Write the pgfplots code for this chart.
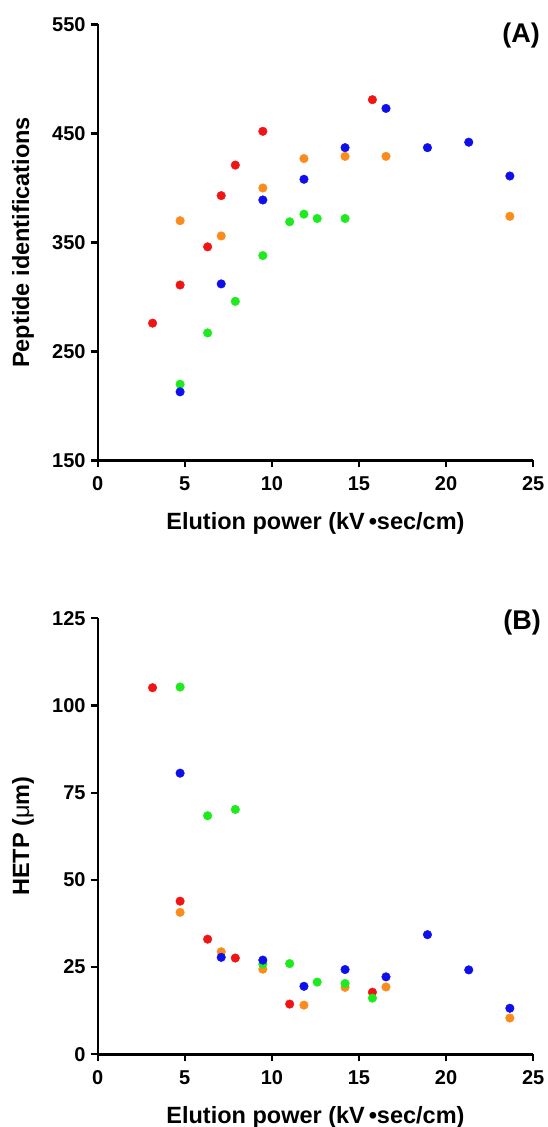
\documentclass[border=0pt]{standalone}
\usepackage{fontspec}
\setmainfont{Liberation Sans}
\usepackage{pgfplots}
\pgfplotsset{compat=1.18}
\definecolor{cred}{RGB}{240,20,20}
\definecolor{corange}{RGB}{250,140,30}
\definecolor{cgreen}{RGB}{30,235,30}
\definecolor{cblue}{RGB}{15,15,235}
\pgfplotsset{pts/.style={only marks, mark=*, mark size=4.3pt, mark options={draw=#1, fill=#1}}}
\pgfplotsset{prism/.style={
  width=435.5pt, height=436pt, scale only axis,
  axis x line=bottom, axis y line=left,
  axis line style={-, line width=2.4pt},
  tick align=outside, major tick length=7pt,
  every tick/.style={black, line width=2.2pt},
  xmin=0, xmax=25, xtick={0,5,...,25},
  enlargelimits=false, clip=false,
  /pgf/number format/assume math mode=true,
  ticklabel style={font=\fontsize{20}{20}\selectfont\bfseries},
  xticklabel style={inner sep=0pt, yshift=-9pt},
  yticklabel style={inner sep=0pt, xshift=-5pt},
}}
\newcommand{\lab}{\fontsize{23.5}{23.5}\selectfont\bfseries}
\begin{document}
\begin{tikzpicture}
\path[use as bounding box] (0pt,0pt) rectangle (547pt,1127pt);
% Panel A
\begin{axis}[prism, at={(97.7pt,666.5pt)}, anchor=south west,
  ymin=150, ymax=550, ytick={150,250,...,550}]
\addplot[pts=cred] coordinates {(3.15,276) (4.73,311) (6.31,346) (7.09,393) (7.9,421) (9.48,452) (15.77,481)};
\addplot[pts=corange] coordinates {(4.73,370) (7.09,356) (9.48,400) (11.84,427) (14.2,429) (16.55,429) (23.66,374)};
\addplot[pts=cgreen] coordinates {(4.73,220) (6.31,267) (7.9,296) (9.48,338) (11.02,369) (11.84,376) (12.6,372) (14.2,372)};
\addplot[pts=cblue] coordinates {(4.73,213) (7.09,312) (9.48,389) (11.84,408) (14.2,437) (16.55,473) (18.93,437) (21.3,442) (23.66,411)};
\node[anchor=base, font=\lab] at ([yshift=-68.8pt]rel axis cs:0.5,0) {Elution power (kV\,•sec/cm)};
\node[anchor=base, rotate=90, font=\lab] at ([xshift=-68.7pt]rel axis cs:0,0.5) {Peptide identifications};
\end{axis}
% Panel B
\begin{axis}[prism, at={(97.7pt,72.7pt)}, anchor=south west,
  ymin=0, ymax=125, ytick={0,25,...,125}]
\addplot[pts=cred] coordinates {(3.15,105.1) (4.73,43.9) (6.31,33.0) (7.9,27.6) (11.02,14.4) (15.77,17.8)};
\addplot[pts=corange] coordinates {(4.73,40.7) (7.09,29.4) (9.48,24.4) (11.84,14.1) (14.2,19.2) (16.55,19.3) (23.66,10.4)};
\addplot[pts=cgreen] coordinates {(4.73,105.3) (6.31,68.4) (7.9,70.2) (9.48,25.9) (11.02,26.0) (12.6,20.7) (14.2,20.3) (15.77,16.1)};
\addplot[pts=cblue] coordinates {(4.73,80.6) (7.09,27.8) (9.48,27.0) (11.84,19.5) (14.2,24.3) (16.55,22.2) (18.93,34.3) (21.3,24.2) (23.66,13.2)};
\node[anchor=base, font=\lab] at ([yshift=-68.8pt]rel axis cs:0.5,0) {Elution power (kV\,•sec/cm)};
\node[anchor=base, rotate=90, font=\lab] at ([xshift=-68.7pt]rel axis cs:0,0.5) {HETP ({\mdseries μ}m)};
\end{axis}
\node[anchor=north east, inner sep=0pt, font=\fontsize{27}{27}\selectfont\bfseries] at (540pt,1104pt) {(A)};
\node[anchor=north east, inner sep=0pt, font=\fontsize{27}{27}\selectfont\bfseries] at (541pt,517pt) {(B)};
\end{tikzpicture}
\end{document}
